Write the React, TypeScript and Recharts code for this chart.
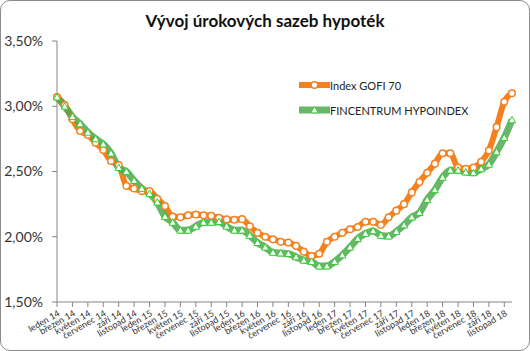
import { LineChart, Line, XAxis, YAxis } from 'recharts';

const monthNames = [
  'leden', 'únor', 'březen', 'duben', 'květen', 'červen',
  'červenec', 'srpen', 'září', 'říjen', 'listopad', 'prosinec',
];
const years = ['14', '15', '16', '17', '18'];

const gofi = [
  3.07, 3.01, 2.9, 2.81, 2.78, 2.72, 2.665, 2.58, 2.55, 2.39,
  2.37, 2.35, 2.35, 2.29, 2.235, 2.155, 2.15, 2.165, 2.17, 2.165,
  2.16, 2.145, 2.133, 2.13, 2.135, 2.08, 2.03, 2.0, 1.98, 1.962,
  1.955, 1.93, 1.886, 1.853, 1.87, 1.962, 2.0, 2.03, 2.057, 2.075,
  2.115, 2.115, 2.09, 2.15, 2.2, 2.25, 2.34, 2.42, 2.49, 2.56,
  2.64, 2.64, 2.53, 2.52, 2.53, 2.575, 2.66, 2.84, 3.035, 3.1,
];

const fincentrum = [
  3.07, 3.0, 2.92, 2.865, 2.8, 2.75, 2.71, 2.64, 2.53, 2.5,
  2.43, 2.37, 2.33, 2.265, 2.155, 2.11, 2.05, 2.05, 2.08, 2.11,
  2.11, 2.115, 2.08, 2.05, 2.05, 2.01, 1.955, 1.92, 1.88, 1.875,
  1.87, 1.845, 1.82, 1.81, 1.775, 1.775, 1.81, 1.86, 1.92, 1.985,
  2.025, 2.045, 2.01, 2.005, 2.04, 2.09, 2.15, 2.185, 2.285, 2.36,
  2.455, 2.51, 2.51, 2.495, 2.49, 2.52, 2.555, 2.65, 2.76, 2.895,
];

const yTicks = [1.5, 2.0, 2.5, 3.0, 3.5];

const categories = years.flatMap(y => monthNames.map(m => `${m} ${y}`));

const data = categories.map((month, i) => ({
  month,
  gofi: gofi[i],
  fincentrum: fincentrum[i],
}));

const ORANGE = '#F5801F';
const GREEN = '#4FA84F';
const GREEN_MARK = '#33CC33';
const FONT = 'Lato, "Open Sans", sans-serif';

const fmtPct = (v: number) => v.toFixed(2).replace('.', ',') + '%';

const Circle = (props: any) => {
  const { cx, cy, index } = props;
  return <circle key={`c-${index}`} cx={cx} cy={cy} r={3.3} fill="#fff" stroke={ORANGE} strokeWidth={1.5} />;
};

const Triangle = (props: any) => {
  const { cx, cy, index } = props;
  const s = 3.6;
  return (
    <polygon
      key={`t-${index}`}
      points={`${cx},${cy - s} ${cx - s},${cy + s * 0.8} ${cx + s},${cy + s * 0.8}`}
      fill="#fff"
      stroke={GREEN_MARK}
      strokeWidth={1}
    />
  );
};

const XTick = ({ x, y, payload }: any) => (
  <g transform={`translate(${x},${y})`}>
    <text x={0} y={0} dy={7} textAnchor="end" fontSize={9} fill="#333" fontFamily={FONT} transform="rotate(-30)">
      {payload.value}
    </text>
  </g>
);

const LegendBox = () => (
  <div style={{ position: 'absolute', left: 299, top: 78, fontFamily: FONT, fontSize: 11, color: '#222' }}>
    <div style={{ display: 'flex', alignItems: 'center', height: 14 }}>
      <svg width={31} height={14}>
        <line x1={0} y1={7} x2={31} y2={7} stroke={ORANGE} strokeWidth={6} />
        <circle cx={15.5} cy={7} r={3.3} fill="#fff" stroke={ORANGE} strokeWidth={1.5} />
      </svg>
      <span>Index GOFI 70</span>
    </div>
    <div style={{ display: 'flex', alignItems: 'center', height: 14, marginTop: 11 }}>
      <svg width={31} height={14}>
        <line x1={0} y1={7} x2={31} y2={7} stroke={GREEN} strokeOpacity={0.85} strokeWidth={7} />
        <polygon points="15.5,3.4 11.9,9.9 19.1,9.9" fill="#fff" stroke={GREEN_MARK} strokeWidth={1} />
      </svg>
      <span>FINCENTRUM HYPOINDEX</span>
    </div>
  </div>
);

export default function App() {
  return (
    <div style={{ position: 'absolute', left: 0, top: 0, width: 530, height: 351, background: '#fff' }}>
      <div
        style={{
          position: 'absolute', left: 0, top: 0, width: 530, height: 351,
          boxSizing: 'border-box', border: '1px solid #8c8c8c', borderRadius: 10,
        }}
      />
      <div
        style={{
          position: 'absolute', left: 0, top: 10, width: 530, textAlign: 'center',
          fontFamily: FONT, fontWeight: 700, fontSize: 17, color: '#111',
        }}
      >
        Vývoj úrokových sazeb hypoték
      </div>
      <div style={{ position: 'absolute', left: 0, top: 0 }}>
        <LineChart width={530} height={351} data={data} margin={{ top: 41, right: 18, left: 0, bottom: 0 }}>
          <XAxis
            dataKey="month"
            interval={1}
            height={49}
            tick={<XTick />}
            tickSize={5}
            axisLine={{ stroke: '#868686' }}
            tickLine={{ stroke: '#868686' }}
          />
          <YAxis
            domain={[1.5, 3.5]}
            ticks={yTicks}
            width={57}
            tickFormatter={fmtPct}
            tick={{ fontSize: 14, fill: '#333', fontFamily: FONT }}
            tickSize={5}
            tickMargin={9}
            axisLine={{ stroke: '#868686' }}
            tickLine={{ stroke: '#868686' }}
          />
          <Line
            type="monotone"
            dataKey="gofi"
            name="Index GOFI 70"
            stroke={ORANGE}
            strokeWidth={6}
            dot={<Circle />}
            isAnimationActive={false}
          />
          <Line
            type="monotone"
            dataKey="fincentrum"
            name="FINCENTRUM HYPOINDEX"
            stroke={GREEN}
            strokeOpacity={0.85}
            strokeWidth={7}
            dot={<Triangle />}
            isAnimationActive={false}
          />
        </LineChart>
      </div>
      <LegendBox />
    </div>
  );
}
